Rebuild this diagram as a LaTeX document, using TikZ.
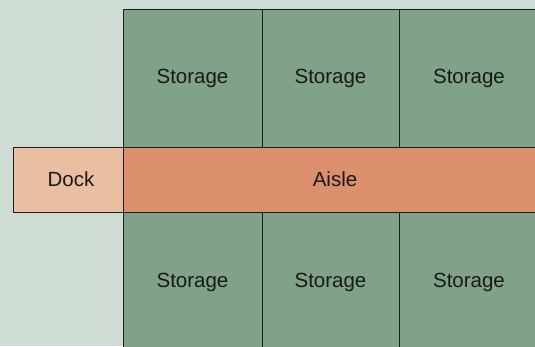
\documentclass[tikz,border=0pt]{standalone}
\usepackage{fontspec}
\setmainfont{Liberation Sans}
\definecolor{pagebg}{RGB}{206,220,211}
\definecolor{storegreen}{RGB}{127,162,137}
\definecolor{aisleorange}{RGB}{219,143,108}
\definecolor{dockpeach}{RGB}{234,190,160}
\definecolor{inkline}{RGB}{30,30,30}
\tikzset{
  labelfont/.style={font=\fontsize{20.5}{22}\selectfont, text=black!90},
  cell/.style={draw=inkline, line width=0.8pt, fill=storegreen, inner sep=0pt, labelfont},
  aislebox/.style={draw=inkline, line width=0.8pt, fill=aisleorange, inner sep=0pt, labelfont},
  dockbox/.style={draw=inkline, line width=0.8pt, fill=dockpeach, inner sep=0pt, labelfont}
}
\begin{document}
\begin{tikzpicture}[x=1pt,y=1pt]
  % page background
  \fill[pagebg] (0,0) rectangle (535,346);
  \useasboundingbox (0,0) rectangle (535,346);
  % storage bays above the aisle
  \node[cell, minimum width=139pt, minimum height=138pt] (s1) at (192.5,268) {Storage};
  \node[cell, minimum width=137pt, minimum height=138pt] (s2) at (330.5,268) {Storage};
  \node[cell, minimum width=140pt, minimum height=138pt] (s3) at (469,268) {Storage};
  % storage bays below the aisle
  \node[cell, minimum width=139pt, minimum height=140pt] (s4) at (192.5,64) {Storage};
  \node[cell, minimum width=137pt, minimum height=140pt] (s5) at (330.5,64) {Storage};
  \node[cell, minimum width=140pt, minimum height=140pt] (s6) at (469,64) {Storage};
  % central aisle and loading dock
  \node[aislebox, minimum width=416pt, minimum height=65pt] (aisle) at (331,166.5) {};
  \node[labelfont] (aisletext) at (335,166.5) {Aisle};
  \node[dockbox, minimum width=110pt, minimum height=65pt] (dock) at (68,166.5) {};
  \node[labelfont] (docktext) at (71,166.5) {Dock};
\end{tikzpicture}
\end{document}
